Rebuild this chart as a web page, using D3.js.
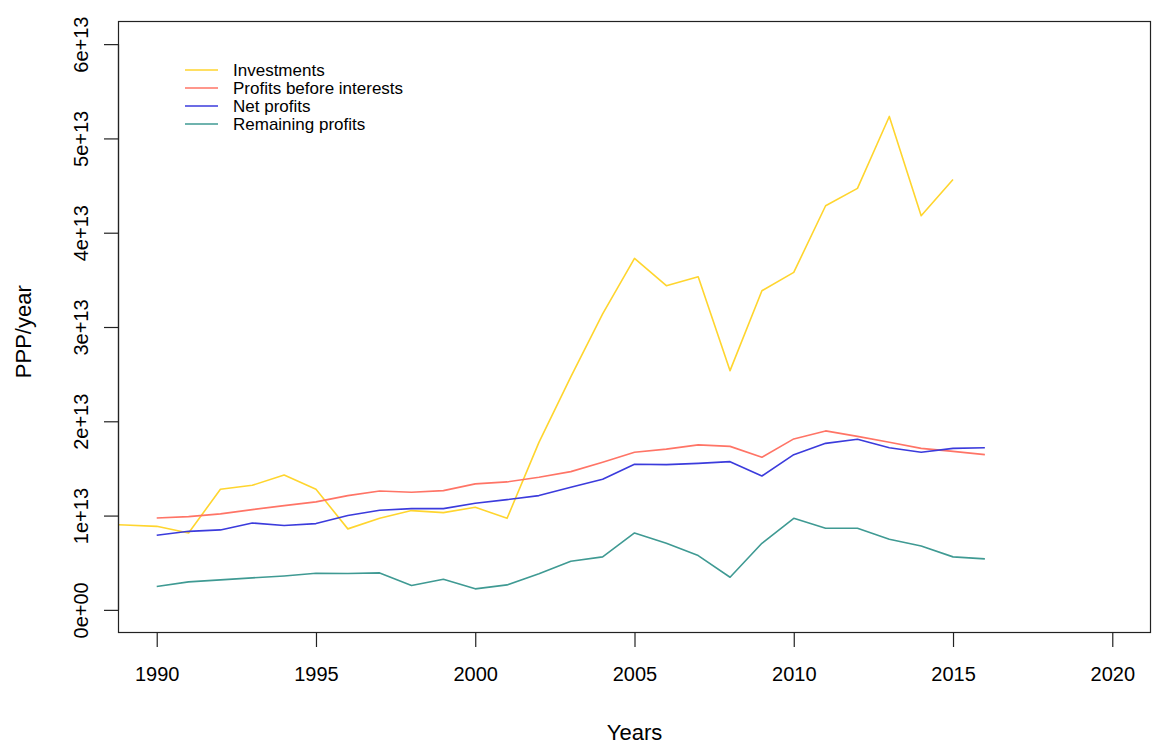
<!DOCTYPE html>
<html>
<head>
<meta charset="utf-8">
<script src="https://cdn.jsdelivr.net/npm/d3@7"></script>
<style>
  body { margin: 0; background: #fff; }
  text { font-family: "Liberation Sans", Arial, Helvetica, sans-serif; fill: #000; }
</style>
</head>
<body>
<div id="graph"></div>
<script>
// values in units of 1e13 (PPP/year)
var years = [1990, 1991, 1992, 1993, 1994, 1995, 1996, 1997, 1998, 1999, 2000, 2001, 2002,
             2003, 2004, 2005, 2006, 2007, 2008, 2009, 2010, 2011, 2012, 2013, 2014, 2015, 2016];
var investYears = [1988, 1989, 1990, 1991, 1992, 1993, 1994, 1995, 1996, 1997, 1998, 1999, 2000, 2001,
                   2002, 2003, 2004, 2005, 2006, 2007, 2008, 2009, 2010, 2011, 2012, 2013, 2014, 2015];
var investments = [0.91, 0.90, 0.886, 0.816, 1.279, 1.321, 1.431, 1.279, 0.859, 0.971, 1.053, 1.031, 1.088, 0.971,
                   1.777, 2.47, 3.14, 3.727, 3.438, 3.533, 2.537, 3.385, 3.579, 4.286, 4.47, 5.233, 4.18, 4.565];
var profitsBefore = [0.975, 0.989, 1.018, 1.063, 1.106, 1.145, 1.212, 1.261, 1.247, 1.265, 1.336, 1.357, 1.406,
                     1.466, 1.565, 1.671, 1.705, 1.75, 1.734, 1.618, 1.813, 1.898, 1.84, 1.777, 1.713, 1.681, 1.646];
var netProfits = [0.791, 0.833, 0.848, 0.922, 0.894, 0.915, 1.0, 1.056, 1.074, 1.074, 1.13, 1.169, 1.212,
                  1.30, 1.385, 1.544, 1.54, 1.554, 1.572, 1.42, 1.646, 1.766, 1.809, 1.72, 1.671, 1.713, 1.72];
var remaining = [0.247, 0.297, 0.318, 0.339, 0.36, 0.388, 0.385, 0.392, 0.258, 0.324, 0.223, 0.265, 0.382,
                 0.515, 0.562, 0.816, 0.706, 0.576, 0.346, 0.706, 0.971, 0.865, 0.865, 0.749, 0.678, 0.562, 0.541];
var seriesNames = ["Investments", "Profits before interests", "Net profits", "Remaining profits"];
var seriesColors = ["#ffd52e", "#ff7466", "#3b3bdc", "#3f9a93"];
var xTicks = [1990, 1995, 2000, 2005, 2010, 2015, 2020];
var yTicks = [0, 1, 2, 3, 4, 5, 6];
var yTickLabels = ["0e+00", "1e+13", "2e+13", "3e+13", "4e+13", "5e+13", "6e+13"];

var W = 1152, H = 747;
var box = {left: 118.5, right: 1150.5, top: 21.5, bottom: 632.5};

var x = d3.scaleLinear()
    .domain([1990 - 1.2, 2020 + 1.2])
    .range([box.left, box.right]);
var y = d3.scaleLinear()
    .domain([-0.24, 6.24])
    .range([box.bottom, box.top]);

var svg = d3.select("#graph").append("svg")
    .attr("width", W)
    .attr("height", H);

svg.append("defs").append("clipPath")
    .attr("id", "clip")
  .append("rect")
    .attr("x", box.left)
    .attr("y", box.top)
    .attr("width", box.right - box.left)
    .attr("height", box.bottom - box.top);

var line = d3.line()
    .x(function(d) { return x(d[0]); })
    .y(function(d) { return y(d[1]); });

var allSeries = [
  d3.zip(investYears, investments),
  d3.zip(years, profitsBefore),
  d3.zip(years, netProfits),
  d3.zip(years, remaining)
];

var plot = svg.append("g").attr("clip-path", "url(#clip)");
plot.selectAll(".series")
    .data(allSeries)
  .enter().append("path")
    .attr("class", "series")
    .attr("d", line)
    .style("fill", "none")
    .style("stroke", function(d, i) { return seriesColors[i]; })
    .style("stroke-width", 1.6)
    .style("stroke-linejoin", "round");

// box
svg.append("rect")
    .attr("x", box.left)
    .attr("y", box.top)
    .attr("width", box.right - box.left)
    .attr("height", box.bottom - box.top)
    .style("fill", "none")
    .style("stroke", "#222")
    .style("stroke-width", 1.2);

// x axis
var xAxis = d3.axisBottom(x)
    .tickValues(xTicks)
    .tickFormat(d3.format("d"))
    .tickSize(14.5)
    .tickPadding(20);
var gx = svg.append("g")
    .attr("transform", "translate(0," + box.bottom + ")")
    .call(xAxis);
gx.select(".domain")
    .attr("d", "M" + x(1990) + ",0H" + x(2020))
    .style("stroke", "#222")
    .style("stroke-width", 1.2);
gx.selectAll(".tick line").style("stroke", "#222").style("stroke-width", 1.2);
gx.selectAll(".tick text")
    .style("font-size", "20px")
    .style("font-family", "'Liberation Sans', Arial, sans-serif")
    .attr("fill", "#000");

// y axis
var yAxis = d3.axisLeft(y)
    .tickValues(yTicks)
    .tickFormat(function(d, i) { return yTickLabels[i]; })
    .tickSize(14.5);
var gy = svg.append("g")
    .attr("transform", "translate(" + box.left + ",0)")
    .call(yAxis);
gy.select(".domain")
    .attr("d", "M0," + y(0) + "V" + y(6))
    .style("stroke", "#222")
    .style("stroke-width", 1.2);
gy.selectAll(".tick line").style("stroke", "#222").style("stroke-width", 1.2);
gy.selectAll(".tick text")
    .attr("x", null)
    .attr("dy", null)
    .attr("transform", "translate(-31,0) rotate(-90)")
    .style("text-anchor", "middle")
    .style("font-size", "20px")
    .style("font-family", "'Liberation Sans', Arial, sans-serif")
    .attr("fill", "#000");

// axis titles
svg.append("text")
    .attr("x", x(2005))
    .attr("y", 740)
    .style("font-size", "22px")
    .style("text-anchor", "middle")
    .text("Years");
svg.append("text")
    .attr("transform", "translate(31," + y(2.95) + ") rotate(-90)")
    .style("font-size", "22px")
    .style("text-anchor", "middle")
    .text("PPP/year");

// legend
var legend = svg.append("g")
    .attr("transform", "translate(185,70)");
var rows = legend.selectAll(".row")
    .data(seriesNames)
  .enter().append("g")
    .attr("class", "row")
    .attr("transform", function(d, i) { return "translate(0," + (i * 18) + ")"; });
rows.append("line")
    .attr("x1", 0)
    .attr("x2", 33)
    .style("stroke", function(d, i) { return seriesColors[i]; })
    .style("stroke-width", 1.6);
rows.append("text")
    .attr("x", 48)
    .attr("dy", "0.35em")
    .style("font-size", "17px")
    .text(function(d) { return d; });
</script>
</body>
</html>
